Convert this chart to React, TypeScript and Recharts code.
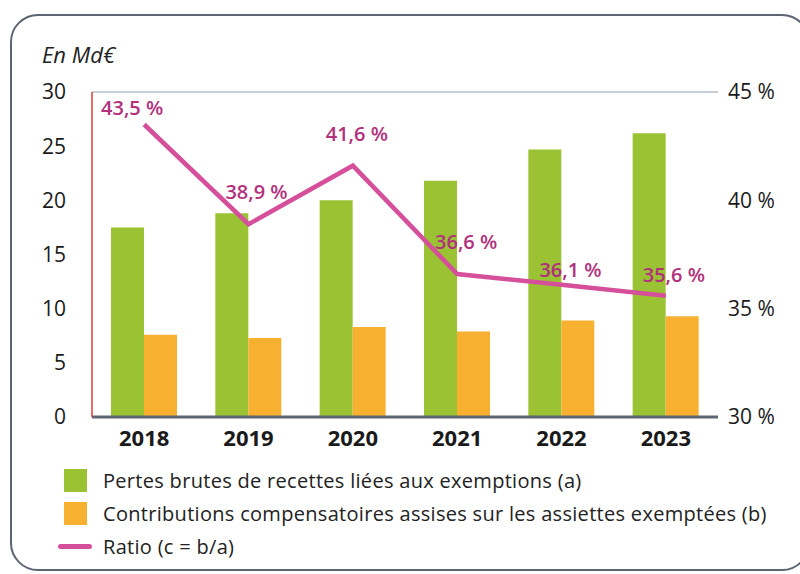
import React from 'react';
import { ComposedChart, Bar, Line, XAxis, YAxis, CartesianGrid, LabelList } from 'recharts';

const years = ['2018', '2019', '2020', '2021', '2022', '2023'];
const pertes = [17.5, 18.8, 20.0, 21.8, 24.7, 26.2];
const contributions = [7.6, 7.3, 8.3, 7.9, 8.9, 9.3];
const ratio = [43.5, 38.9, 41.6, 36.6, 36.1, 35.6];
const leftTicks = [0, 5, 10, 15, 20, 25, 30];
const rightTicks = [30, 35, 40, 45];

const legendItems = [
  'Pertes brutes de recettes liées aux exemptions (a)',
  'Contributions compensatoires assises sur les assiettes exemptées (b)',
  'Ratio (c = b/a)',
];

// label placement offsets (styling)
const labelDx = [-12, 8, 4, 9, 9, 8];
const labelDy = [-17, -33, -32, -33, -15, -21];

const data = years.map((y, i) => ({ year: y, a: pertes[i], b: contributions[i], c: ratio[i] }));

const FONT = '"Open Sans", "DejaVu Sans", sans-serif';
const GREEN = '#9bc232';
const ORANGE = '#f8b031';
const PINK = '#d64f9b';
const PINK_TEXT = '#b2307c';

const fmt = (v: number) => v.toFixed(1).replace('.', ',') + ' %';

const RatioLabel = (props: any) => {
  const { x, y, index, value } = props;
  return (
    <text
      x={x + labelDx[index]}
      y={y + labelDy[index]}
      textAnchor="middle"
      dominantBaseline="central"
      fill={PINK_TEXT}
      fontFamily={FONT}
      fontWeight={600}
      fontSize={20}
    >
      {fmt(value)}
    </text>
  );
};

export default function App() {
  return (
    <div style={{ position: 'absolute', left: 0, top: 0, width: 800, height: 574, background: '#fff', fontFamily: FONT }}>
      <div
        style={{
          position: 'absolute',
          left: 10,
          top: 14,
          width: 800,
          height: 557,
          border: '2px solid #5d6472',
          borderRadius: 28,
          boxSizing: 'border-box',
        }}
      />
      <div style={{ position: 'absolute', left: 42, top: 39, fontSize: 22, fontStyle: 'italic', color: '#222' }}>En Md€</div>
      <div style={{ position: 'absolute', left: 0, top: 0 }}>
        <ComposedChart
          width={800}
          height={574}
          data={data}
          margin={{ top: 92, right: 0, left: 0, bottom: 127 }}
          barGap={0}
        >
          <CartesianGrid horizontal vertical={false} stroke="#b7bec8" strokeWidth={1.5} />
          <XAxis
            dataKey="year"
            axisLine={{ stroke: '#5d6472', strokeWidth: 3 }}
            tickLine={false}
            height={30}
            tickMargin={7}
            tick={{ fill: '#1a1a1a', fontSize: 22, fontWeight: 700, fontFamily: FONT }}
          />
          <YAxis
            yAxisId="left"
            orientation="left"
            width={92}
            domain={[0, 30]}
            ticks={leftTicks}
            axisLine={{ stroke: '#e53935', strokeWidth: 1.5 }}
            tickLine={false}
            tickSize={0}
            tickMargin={26}
            tick={{ fill: '#1a1a1a', fontSize: 21, fontFamily: FONT }}
          />
          <YAxis
            yAxisId="right"
            orientation="right"
            width={82}
            domain={[30, 45]}
            ticks={rightTicks}
            axisLine={false}
            tickLine={false}
            tickSize={0}
            tickMargin={10}
            tickFormatter={(v: number) => `${v} %`}
            tick={{ fill: '#1a1a1a', fontSize: 21, fontFamily: FONT, textAnchor: 'start' }}
          />
          <Bar yAxisId="left" dataKey="a" fill={GREEN} barSize={33} isAnimationActive={false} />
          <Bar yAxisId="left" dataKey="b" fill={ORANGE} barSize={33} isAnimationActive={false} />
          <Line
            yAxisId="right"
            dataKey="c"
            stroke={PINK}
            strokeWidth={4.5}
            dot={false}
            type="linear"
            isAnimationActive={false}
          >
            <LabelList dataKey="c" content={<RatioLabel />} />
          </Line>
        </ComposedChart>
      </div>
      <div style={{ position: 'absolute', left: 58, top: 464, fontSize: 20, letterSpacing: 0.3, color: '#222' }}>
        {legendItems.map((t, i) => (
          <div key={t} style={{ display: 'flex', alignItems: 'center', height: 33 }}>
            <div style={{ width: 34, display: 'flex', justifyContent: 'center' }}>
              {i < 2 ? (
                <div style={{ width: 23, height: 23, background: i === 0 ? GREEN : ORANGE }} />
              ) : (
                <div style={{ width: 34, height: 5, borderRadius: 3, background: PINK }} />
              )}
            </div>
            <span style={{ marginLeft: 11, whiteSpace: 'nowrap' }}>{t}</span>
          </div>
        ))}
      </div>
    </div>
  );
}
